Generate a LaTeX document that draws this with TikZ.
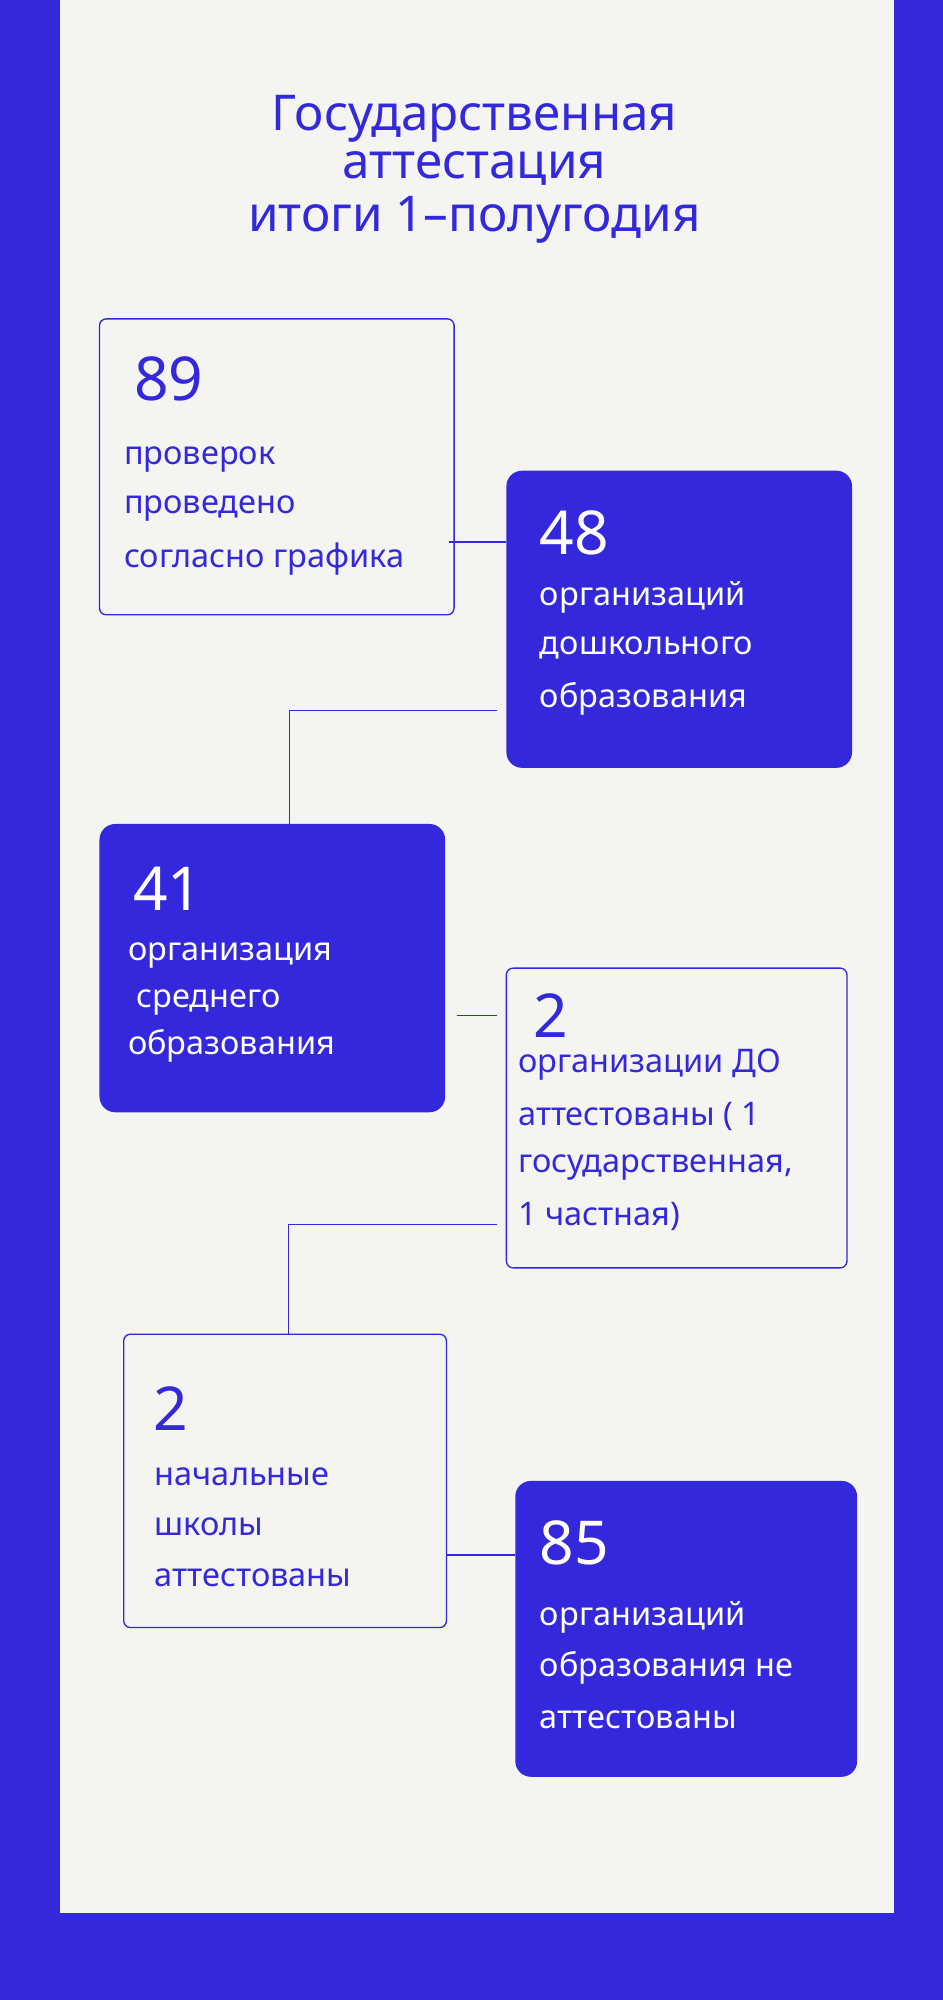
\documentclass[tikz,border=0pt]{standalone}
\usepackage{fontspec}
\setmainfont{Noto Sans}
\definecolor{blu}{HTML}{3328DB}
\definecolor{pap}{HTML}{F4F4F0}
\tikzset{
 obox/.style={draw=blu,line width=0.6pt,rounded corners=3pt,fill=pap},
 fbox/.style={fill=blu,rounded corners=7pt},
 num/.style={anchor=west,inner sep=0,font=\fontsize{27}{30}\selectfont},
 txt/.style={anchor=west,inner sep=0,font=\fontsize{14.5}{17}\selectfont},
 conn/.style={draw=blu,line width=0.6pt},
 ttl/.style={text=blu,inner sep=0,font=\fontsize{22}{24}\selectfont}
}
\begin{document}
\begin{tikzpicture}[x=0.02cm,y=-0.02cm]
\fill[blu] (0,0) rectangle (739,1568);
\useasboundingbox (0,0) rectangle (739,1568);
\fill[pap] (47,0) rectangle (701,1500);
\node[ttl,font=\fontsize{22}{24}\selectfont\bfseries] (t1) at (372,93) {Государственная};
\node[ttl,font=\fontsize{22}{24}\selectfont\bfseries] (t2) at (372,132) {аттестация};
\node[ttl] (t3) at (372,172) {итоги 1–полугодия};
% box1
\draw[obox] (78,250) rectangle (356,482);
\node[num,text=blu] (n1) at (105,297) {89};
\node[txt,text=blu] (a1) at (97,360) {проверок};
\node[txt,text=blu] (a2) at (97,399) {проведено};
\node[txt,text=blu] (a3) at (97,438) {согласно графика};
% box2
\fill[fbox] (397,369) rectangle (668,602);
\node[num,text=white] (n2) at (423,418) {48};
\node[txt,text=white] (b1) at (423,468) {организаций};
\node[txt,text=white] (b2) at (423,508) {дошкольного};
\node[txt,text=white] (b3) at (423,548) {образования};
% box3
\fill[fbox] (78,646) rectangle (349,872);
\node[num,text=white] (n3) at (104,697) {41};
\node[txt,text=white] (c1) at (100,749) {организация};
\node[txt,text=white] (c2) at (100,786) {\ среднего};
\node[txt,text=white] (c3) at (100,820) {образования};
% box4
\draw[obox] (397,759) rectangle (664,994);
\node[num,text=blu] (n4) at (418,796) {2};
\node[txt,text=blu] (d1) at (406,835) {организации ДО};
\node[txt,text=blu] (d2) at (406,875) {аттестованы ( 1};
\node[txt,text=blu] (d3) at (406,915) {государственная,};
\node[txt,text=blu] (d4) at (406,954) {1 частная)};
% box5
\draw[obox] (97,1046) rectangle (350,1276);
\node[num,text=blu] (n5) at (120,1104) {2};
\node[txt,text=blu] (e1) at (121,1158) {начальные};
\node[txt,text=blu] (e2) at (121,1197) {школы};
\node[txt,text=blu] (e3) at (121,1237) {аттестованы};
% box6
\fill[fbox] (404,1161) rectangle (672,1393);
\node[num,text=white] (n6) at (423,1210) {85};
\node[txt,text=white] (f1) at (423,1268) {организаций};
\node[txt,text=white] (f2) at (423,1308) {образования не};
\node[txt,text=white] (f3) at (423,1348) {аттестованы};
% connectors
\coordinate (p1) at (352,425); \coordinate (p2) at (397,425);
\coordinate (q1) at (390,557); \coordinate (q2) at (227,646);
\coordinate (r1) at (358,796); \coordinate (r2) at (390,796);
\coordinate (s1) at (390,960); \coordinate (s2) at (226,1046);
\coordinate (u1) at (350,1219); \coordinate (u2) at (404,1219);
\draw[conn] (p1) -- (p2);
\draw[conn] (q1) -| (q2);
\draw[conn] (r1) -- (r2);
\draw[conn] (s1) -| (s2);
\draw[conn] (u1) -- (u2);
\end{tikzpicture}
\end{document}
